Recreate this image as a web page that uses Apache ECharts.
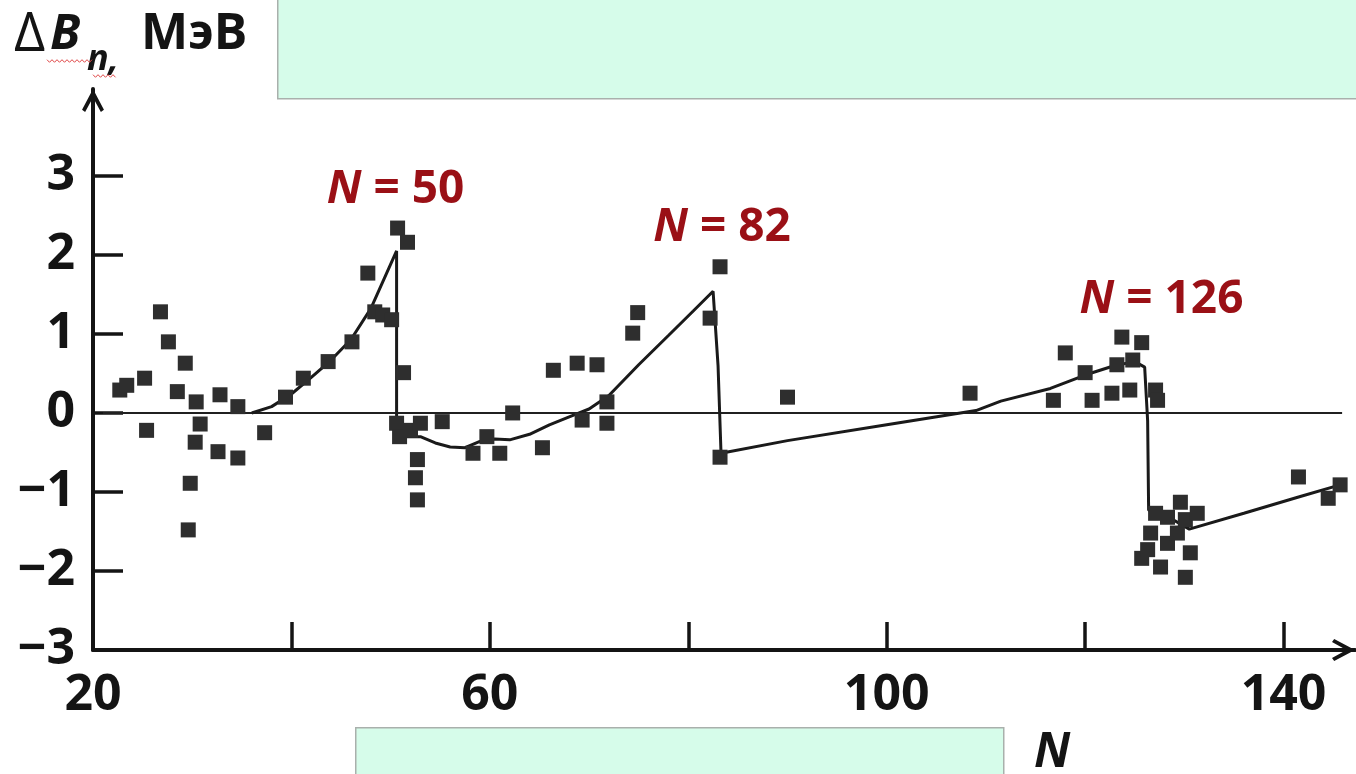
<!DOCTYPE html>
<html>
<head>
<meta charset="utf-8">
<script src="https://cdn.jsdelivr.net/npm/echarts@6/dist/echarts.min.js"></script>
<style>
  html, body { margin: 0; padding: 0; background: #ffffff; }
  #chart { width: 1356px; height: 774px; }
</style>
</head>
<body>
<div id="chart"></div>
<script>
// Neutron separation energy difference ΔB_n (MeV) versus neutron number N

// measured values (squares)
const measuredN = [
  22.7, 23.4, 25.2, 25.4, 26.8, 27.6, 29.3, 28.5, 30.4, 30.8, 30.3, 32.6, 32.8, 34.6, 34.6, 37.3, 29.8, 29.6,
  39.4, 41.2, 43.7, 46.1, 47.7, 48.4, 49.2, 50.1, 50.7, 51.7, 51.3,
  50.6, 50.9, 52.0, 53.0, 55.2, 52.7, 52.5, 52.7,
  58.3, 59.7, 61.0, 62.3, 65.3, 66.4, 68.8, 70.8, 71.8, 71.8, 69.3, 74.4, 74.9, 82.2, 83.2, 83.2,
  90.0, 108.4, 116.8, 118.0, 120.0, 120.7, 122.7, 123.2, 123.7, 124.5, 124.8, 125.7, 127.1, 127.3,
  125.7, 126.3, 126.6, 127.1, 127.6, 128.3, 128.3, 129.3, 129.6, 130.1, 130.1, 130.6, 131.3,
  141.5, 144.5, 145.7
];
const measuredDB = [
  0.29, 0.35, 0.44, -0.22, 1.28, 0.90, 0.63, 0.27, 0.14, -0.14, -0.37, -0.49, 0.23, 0.08, -0.57, -0.25, -0.89, -1.48,
  0.20, 0.44, 0.65, 0.90, 1.77, 1.28, 1.24, 1.18, 2.34, 2.16, 0.51,
  -0.13, -0.30, -0.22, -0.13, -0.11, -0.59, -0.82, -1.10,
  -0.51, -0.30, -0.51, 0.00, -0.44, 0.54, 0.63, 0.61, 0.14, -0.13, -0.09, 1.01, 1.27, 1.20, 1.85, -0.56,
  0.20, 0.25, 0.16, 0.76, 0.51, 0.16, 0.25, 0.61, 0.96, 0.29, 0.67, 0.89, 0.29, 0.16,
  -1.84, -1.73, -1.52, -1.27, -1.95, -1.32, -1.65, -1.52, -1.13, -1.35, -2.08, -1.77, -1.27,
  -0.81, -1.08, -0.91
];

// calculated curve
const curveN = [
  36.0, 38.0, 40.0, 42.0, 44.0, 46.0, 48.0, 50.6,
  50.6, 51.5, 53.0, 54.5, 56.0, 57.5, 59.0, 60.5, 62.0, 64.0, 66.0, 68.0, 70.0, 72.0, 75.0, 78.0, 80.5, 82.5,
  83.0, 83.3, 90.0, 100.0, 106.0, 109.0, 111.5, 116.5, 120.0, 123.0, 125.0, 126.0,
  126.3, 126.4, 128.3, 130.5, 136.0, 141.6, 145.7
];
const curveDB = [
  0.00, 0.08, 0.24, 0.45, 0.67, 0.93, 1.32, 2.05,
  -0.33, -0.30, -0.30, -0.38, -0.43, -0.44, -0.36, -0.33, -0.34, -0.27, -0.15, -0.05, 0.05, 0.22, 0.61, 0.98, 1.29, 1.54,
  0.60, -0.51, -0.35, -0.15, -0.03, 0.03, 0.15, 0.31, 0.48, 0.60, 0.65, 0.58,
  -0.10, -1.23, -1.31, -1.47, -1.27, -1.06, -0.91
];

// horizontal reference line at ΔB_n = 0
const zeroLineN = [21.0, 145.9];

// axis ticks and labels
const xTickValues = [40, 60, 80, 100, 120, 140];
const xLabelValues = [20, 60, 100, 140];
const yTickValues = [-3, -2, -1, 0, 1, 2, 3];

// magic numbers
const shellNumbers = [50, 82, 126];

const INK = '#141414';
const MARK = '#2e2e2e';
const SHELL_RED = '#9a1016';
const FONT = '"Open Sans", "Liberation Sans", sans-serif';

const chart = echarts.init(document.getElementById('chart'), null, { renderer: 'canvas' });

// open chevron arrowhead, pointing up (the axis builder rotates it)
const chevron = 'path://M10,0 L20,19 L17.2,21 L10,7.8 L2.8,21 L0,19 Z';

const scatterData = measuredN.map((n, i) => [n, measuredDB[i]]);
const curveData = curveN.map((n, i) => [n, curveDB[i]]);
const zeroData = zeroLineN.map(n => [n, 0]);

// where each magic-number caption sits (data coordinates)
const shellCaptionAnchor = [[50.5, 2.82], [83.4, 2.34], [127.7, 1.43]];
const shellCaptions = shellNumbers.map((s, i) => ({
  value: [shellCaptionAnchor[i][0], shellCaptionAnchor[i][1]],
  label: { formatter: '{i|N}{r| = ' + s + '}' }
}));

// red wavy underline of the spell checker under "B" and "n"
function wavy(x0, x1, y, step, amp) {
  const pts = [];
  let up = true;
  for (let x = x0; x <= x1; x += step) {
    pts.push([x, y + (up ? -amp : amp)]);
    up = !up;
  }
  return pts;
}

const captionText = {
  fontFamily: FONT, fontSize: 46, fontWeight: 'bold', color: SHELL_RED,
  textBorderWidth: 0, textBorderColor: 'transparent', textShadowBlur: 0, opacity: 1
};

const option = {
  backgroundColor: '#ffffff',
  animation: false,
  grid: { left: 93, right: 1, top: 89, bottom: 124, containLabel: false },
  xAxis: {
    type: 'value',
    min: 20,
    max: 147.2,
    axisLine: {
      show: true,
      onZero: false,
      symbol: ['none', chevron],
      symbolSize: [22, 23],
      symbolOffset: [0, -11.5],
      lineStyle: { color: INK, width: 4 }
    },
    axisTick: {
      show: true,
      inside: true,
      length: 28,
      customValues: xTickValues,
      lineStyle: { color: INK, width: 3.5 }
    },
    axisLabel: {
      show: true,
      customValues: xLabelValues,
      margin: 21,
      color: INK,
      fontFamily: FONT,
      fontWeight: 'bold',
      fontSize: 50
    },
    splitLine: { show: false }
  },
  yAxis: {
    type: 'value',
    min: -3,
    max: 4.1,
    axisLine: {
      show: true,
      onZero: false,
      symbol: ['none', chevron],
      symbolSize: [22, 23],
      symbolOffset: [0, -11.5],
      lineStyle: { color: INK, width: 4 }
    },
    axisTick: {
      show: true,
      inside: true,
      length: 30,
      customValues: yTickValues,
      lineStyle: { color: INK, width: 3.5 }
    },
    axisLabel: {
      show: true,
      customValues: yTickValues,
      margin: 18,
      color: INK,
      fontFamily: FONT,
      fontWeight: 'bold',
      fontSize: 50,
      formatter: v => (v < 0 ? '\u2212' + Math.abs(v) : String(v))
    },
    splitLine: { show: false }
  },
  series: [
    {
      name: 'zero',
      type: 'line',
      data: zeroData,
      symbol: 'none',
      silent: true,
      lineStyle: { color: '#202020', width: 2 },
      z: 1
    },
    {
      name: 'calculated',
      type: 'line',
      data: curveData,
      symbol: 'none',
      smooth: false,
      lineStyle: { color: '#1a1a1a', width: 3 },
      z: 3
    },
    {
      name: 'measured',
      type: 'scatter',
      data: scatterData,
      symbol: 'rect',
      symbolSize: 15,
      itemStyle: { color: MARK, opacity: 1 },
      z: 4
    },
    {
      name: 'shells',
      type: 'scatter',
      data: shellCaptions,
      symbolSize: 0,
      silent: true,
      itemStyle: { color: SHELL_RED, opacity: 1 },
      label: {
        show: true,
        position: 'inside',
        color: SHELL_RED,
        opacity: 1,
        textBorderWidth: 0,
        textBorderColor: 'transparent',
        rich: {
          i: Object.assign({ fontStyle: 'italic' }, captionText),
          r: Object.assign({}, captionText)
        }
      },
      z: 5
    }
  ],
  graphic: [
    // pale panels
    {
      type: 'rect', left: 277, top: -2, z: 0,
      shape: { width: 1082, height: 100 },
      style: { fill: '#d6fcea', stroke: '#a9b0ac', lineWidth: 1.5 }
    },
    {
      type: 'rect', left: 355, top: 727, z: 0,
      shape: { width: 648, height: 60 },
      style: { fill: '#d6fcea', stroke: '#a9b0ac', lineWidth: 1.5 }
    },
    // axis title ΔB_n, МэВ
    {
      type: 'text', left: 14, top: 9, z: 10,
      style: { text: '\u0394', font: '54px ' + FONT, fill: INK }
    },
    {
      type: 'text', left: 50, top: 11, z: 10,
      style: { text: 'B', font: 'italic bold 49px ' + FONT, fill: INK }
    },
    {
      type: 'text', left: 87, top: 42, z: 10,
      style: { text: 'n,', font: 'italic bold 36px ' + FONT, fill: INK }
    },
    {
      type: 'text', left: 141, top: 10, z: 10,
      style: { text: 'МэВ', font: 'bold 50px ' + FONT, fill: INK }
    },
    {
      type: 'polyline', z: 11, silent: true,
      shape: { points: wavy(47, 93, 61, 2.5, 1.3) },
      style: { stroke: '#e04848', lineWidth: 1, fill: null }
    },
    {
      type: 'polyline', z: 11, silent: true,
      shape: { points: wavy(93, 117, 76, 2.5, 1.3) },
      style: { stroke: '#e04848', lineWidth: 1, fill: null }
    },
    // x axis title
    {
      type: 'text', left: 1034, top: 729, z: 10,
      style: { text: 'N', font: 'italic bold 48px ' + FONT, fill: INK }
    }
  ]
};

chart.setOption(option);
</script>
</body>
</html>
